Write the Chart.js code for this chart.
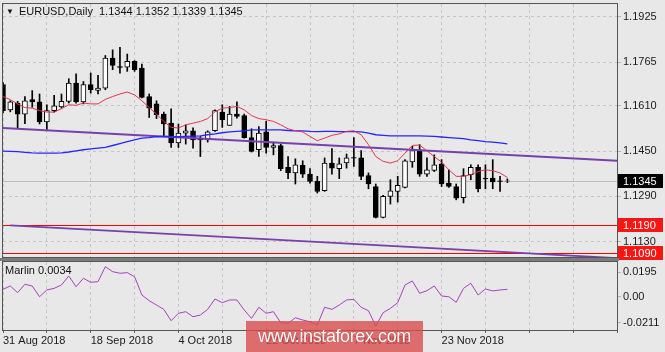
<!DOCTYPE html>
<html>
<head>
<meta charset="utf-8">
<script src="https://cdn.jsdelivr.net/npm/chart.js@4.4.0/dist/chart.umd.min.js"></script>
<style>
  html, body { margin: 0; padding: 0; background: #e8e8e8; }
  #wrap { position: relative; width: 665px; height: 352px; overflow: hidden; background: #e8e8e8;
          font-family: "Liberation Sans", Arial, sans-serif; color: #111; }
  canvas { position: absolute; left: 0; }
  #main { top: 0; }
  #ind { top: 261px; }
  #sep { position: absolute; left: 0; top: 258px; width: 619px; height: 3px; background: #7c7c7c; z-index: 2; }
  #title { position: absolute; left: 6px; top: 5px; font-size: 11px; white-space: nowrap; }
  #title span { font-size: 8px; margin-right: 5px; position: relative; top: -1px; }
  #marlin { position: absolute; left: 5px; top: 264px; font-size: 11px; }
  #wm { position: absolute; left: 246px; top: 321px; width: 177px; height: 31px; z-index: 3;
        background: rgba(218, 78, 78, 0.8); color: #fff; font-size: 18px; line-height: 30px;
        text-align: center; letter-spacing: -0.4px; text-shadow: 0 0 1px rgba(120,0,0,0.6); }
</style>
</head>
<body>
<div id="wrap">
  <canvas id="main" width="665" height="262"></canvas>
  <canvas id="ind" width="665" height="91"></canvas>
  <div id="sep"></div>
  <div id="title"><span>&#9660;</span>EURUSD,Daily&nbsp; 1.1344 1.1352 1.1339 1.1345</div>
  <div id="marlin">Marlin 0.0034</div>
  <div id="wm">www.instaforex.com</div>
</div>
<script>
// daily bars
const dates = ['31 Aug 2018','3 Sep 2018','4 Sep 2018','5 Sep 2018','6 Sep 2018','7 Sep 2018','10 Sep 2018','11 Sep 2018','12 Sep 2018','13 Sep 2018',
  '14 Sep 2018','17 Sep 2018','18 Sep 2018','19 Sep 2018','20 Sep 2018','21 Sep 2018','24 Sep 2018','25 Sep 2018','26 Sep 2018','27 Sep 2018',
  '28 Sep 2018','1 Oct 2018','2 Oct 2018','3 Oct 2018','4 Oct 2018','5 Oct 2018','8 Oct 2018','9 Oct 2018','10 Oct 2018','11 Oct 2018',
  '12 Oct 2018','15 Oct 2018','16 Oct 2018','17 Oct 2018','18 Oct 2018','19 Oct 2018','22 Oct 2018','23 Oct 2018','24 Oct 2018','25 Oct 2018',
  '26 Oct 2018','29 Oct 2018','30 Oct 2018','31 Oct 2018','1 Nov 2018','2 Nov 2018','5 Nov 2018','6 Nov 2018','7 Nov 2018','8 Nov 2018',
  '9 Nov 2018','12 Nov 2018','13 Nov 2018','14 Nov 2018','15 Nov 2018','16 Nov 2018','19 Nov 2018','20 Nov 2018','21 Nov 2018','22 Nov 2018',
  '23 Nov 2018','26 Nov 2018','27 Nov 2018','28 Nov 2018','29 Nov 2018','30 Nov 2018','3 Dec 2018','4 Dec 2018','5 Dec 2018','6 Dec 2018'];

const open = [1.1685,1.1596,1.1620,1.1581,1.1632,1.1624,1.1553,1.1593,1.1606,1.1626,
  1.1691,1.1624,1.1685,1.1665,1.1673,1.1779,1.1749,1.1747,1.1767,1.1744,
  1.1643,1.1617,1.1581,1.1549,1.1479,1.1514,1.1522,1.1492,1.1490,1.1522,
  1.1588,1.1541,1.1581,1.1576,1.1498,1.1455,1.1518,1.1463,1.1470,1.1393,
  1.1373,1.1400,1.1369,1.1343,1.1310,1.1408,1.1388,1.1408,1.1427,1.1426,
  1.1364,1.1325,1.1216,1.1290,1.1308,1.1322,1.1412,1.1455,1.1369,1.1382,
  1.1405,1.1337,1.1325,1.1286,1.1367,1.1393,1.1354,1.1355,1.1345,1.1344];
const high = [1.1692,1.1628,1.1626,1.1643,1.1664,1.1652,1.1614,1.1647,1.1652,1.1706,
  1.1723,1.1696,1.1726,1.1718,1.1788,1.1808,1.1817,1.1793,1.1770,1.1758,
  1.1652,1.1628,1.1588,1.1600,1.1546,1.1543,1.1532,1.1502,1.1522,1.1596,
  1.1614,1.1608,1.1624,1.1581,1.1529,1.1537,1.1555,1.1482,1.1475,1.1431,
  1.1423,1.1416,1.1388,1.1361,1.1426,1.1459,1.1426,1.1440,1.1498,1.1452,
  1.1373,1.1334,1.1294,1.1349,1.1361,1.1420,1.1467,1.1473,1.1426,1.1437,
  1.1420,1.1384,1.1334,1.1388,1.1402,1.1402,1.1402,1.1420,1.1361,1.1352];
const low = [1.1586,1.1589,1.1529,1.1547,1.1605,1.1546,1.1522,1.1588,1.1602,1.1620,
  1.1620,1.1617,1.1655,1.1652,1.1667,1.1738,1.1726,1.1732,1.1732,1.1638,
  1.1569,1.1565,1.1502,1.1463,1.1463,1.1475,1.1461,1.1431,1.1482,1.1520,
  1.1534,1.1541,1.1567,1.1496,1.1447,1.1431,1.1443,1.1437,1.1381,1.1353,
  1.1334,1.1357,1.1337,1.1302,1.1308,1.1369,1.1353,1.1390,1.1396,1.1349,
  1.1317,1.1214,1.1214,1.1263,1.1270,1.1320,1.1393,1.1361,1.1361,1.1378,
  1.1325,1.1322,1.1278,1.1267,1.1349,1.1306,1.1317,1.1317,1.1308,1.1339];
const close = [1.1593,1.1624,1.1581,1.1628,1.1624,1.1553,1.1593,1.1610,1.1626,1.1691,
  1.1624,1.1685,1.1667,1.1673,1.1779,1.1753,1.1746,1.1767,1.1738,1.1640,
  1.1602,1.1579,1.1546,1.1479,1.1514,1.1522,1.1490,1.1490,1.1518,1.1593,
  1.1561,1.1581,1.1573,1.1498,1.1449,1.1514,1.1463,1.1470,1.1388,1.1373,
  1.1402,1.1369,1.1343,1.1308,1.1408,1.1390,1.1405,1.1426,1.1425,1.1361,
  1.1334,1.1216,1.1290,1.1310,1.1329,1.1416,1.1452,1.1369,1.1384,1.1402,
  1.1334,1.1325,1.1284,1.1364,1.1393,1.1317,1.1352,1.1341,1.1343,1.1345];

// moving averages (red = fast, blue = slow)
const redMA = [1.1643,1.1632,1.1617,1.1604,1.1602,1.1593,1.1588,1.1588,1.1600,1.1614,
  1.1612,1.1620,1.1617,1.1617,1.1633,1.1643,1.1652,1.1659,1.1649,1.1628,
  1.1604,1.1581,1.1555,1.1534,1.1532,1.1543,1.1549,1.1555,1.1565,1.1589,
  1.1602,1.1604,1.1608,1.1596,1.1576,1.1565,1.1561,1.1555,1.1543,1.1529,
  1.1522,1.1518,1.1502,1.1487,1.1496,1.1506,1.1511,1.1520,1.1522,1.1508,
  1.1473,1.1431,1.1414,1.1408,1.1416,1.1443,1.1470,1.1472,1.1451,1.1431,
  1.1411,1.1384,1.1361,1.1361,1.1367,1.1378,1.1384,1.1381,1.1373,1.1357];
const blueMA = [1.1450,1.1449,1.1448,1.1446,1.1444,1.1443,1.1443,1.1443,1.1444,1.1447,
  1.1451,1.1455,1.1458,1.1461,1.1463,1.1470,1.1477,1.1484,1.1490,1.1496,
  1.1498,1.1501,1.1502,1.1501,1.1501,1.1502,1.1503,1.1504,1.1508,1.1511,
  1.1515,1.1518,1.1520,1.1522,1.1525,1.1525,1.1525,1.1525,1.1525,1.1523,
  1.1522,1.1522,1.1520,1.1519,1.1520,1.1520,1.1519,1.1519,1.1519,1.1518,
  1.1514,1.1508,1.1506,1.1504,1.1504,1.1504,1.1504,1.1504,1.1503,1.1502,
  1.1500,1.1498,1.1496,1.1494,1.1490,1.1487,1.1484,1.1482,1.1479,1.1476];

// Marlin oscillator
const marlin = [0.0058,0.0085,0.0031,0.0099,0.0085,-0.0002,0.0053,0.0066,0.0093,0.0166,
  0.0079,0.0147,0.0115,0.0120,0.0241,0.0201,0.0188,0.0193,0.0160,0.0012,
  -0.0034,-0.0069,-0.0104,-0.0196,-0.0136,-0.0123,-0.0164,-0.0150,-0.0104,-0.0020,
  -0.0050,-0.0028,-0.0028,-0.0109,-0.0177,-0.0087,-0.0136,-0.0123,-0.0212,-0.0217,
  -0.0172,-0.0190,-0.0204,-0.0231,-0.0087,-0.0104,-0.0069,-0.0028,-0.0023,-0.0087,
  -0.0115,-0.0239,-0.0131,-0.0096,-0.0050,0.0093,0.0126,0.0026,0.0047,0.0085,
  0.0004,-0.0002,-0.0047,0.0066,0.0107,0.0012,0.0061,0.0045,0.0053,0.0058];

// trend channel: [bar index, price] at each end
const upperTrend = [[0, 1.1532], [84, 1.1416]];
const lowerTrend = [[1, 1.1188], [84, 1.1072]];

const lastPrice = 1.1345;
const levels = [1.1190, 1.1090];

const priceTicks = [1.1925, 1.1765, 1.1610, 1.1450, 1.1290, 1.1130];
const marlinTicks = [0.0195, 0, -0.0211];
const marlinTickText = ['0.0195', '0.00', '-0.0211'];
const tickLabels = ['31 Aug 2018', '18 Sep 2018', '4 Oct 2018', '22 Oct 2018', '7 Nov 2018', '23 Nov 2018'];

const emptySlots = 15;
const xLabels = dates.concat(Array(emptySlots).fill(''));
const gridIdx = [];
for (let i = 0; i < xLabels.length; i += 6) gridIdx.push(i);

const bodies = open.map((o, i) => [o, close[i]]);
const wicks = low.map((l, i) => [l, high[i]]);
const bodyFill = open.map((o, i) => close[i] >= o ? '#ffffff' : '#000000');

function lineFrom(ends) {
  const arr = xLabels.map(() => null);
  ends.forEach(([i, v]) => { arr[i] = v; });
  return arr;
}

// horizontal lines and axis tags of the price pane
const hLines = [[lastPrice, '#bdbdbd'], [levels[0], '#ff0000'], [levels[1], '#ff0000']];
const priceTags = [[lastPrice, '#000000'], [levels[0], '#ff1414'], [levels[1], '#ff1414']];

Chart.defaults.font.family = '"Liberation Sans", Arial, sans-serif';
Chart.defaults.font.size = 11;
Chart.defaults.color = '#1a1a1a';

const gridColor = '#c6c6c6';

const frame = {
  id: 'frame',
  afterDraw(chart) {
    const { ctx, chartArea: a } = chart;
    ctx.save();
    ctx.strokeStyle = '#555555';
    ctx.lineWidth = 1;
    ctx.strokeRect(Math.round(a.left) - 0.5, Math.round(a.top) - 0.5,
      Math.round(a.right - a.left) + 1, Math.round(a.bottom - a.top) + 1);
    ctx.restore();
  }
};

const priceDecor = {
  id: 'priceDecor',
  beforeDatasetsDraw(chart) {
    const { ctx, chartArea: a } = chart;
    const y = chart.scales.y;
    ctx.save();
    ctx.setLineDash([]);
    ctx.lineWidth = 1;
    hLines.forEach(([v, c]) => {
      const py = Math.round(y.getPixelForValue(v)) + 0.5;
      ctx.strokeStyle = c;
      ctx.beginPath();
      ctx.moveTo(a.left, py);
      ctx.lineTo(a.right, py);
      ctx.stroke();
    });
    ctx.restore();
  },
  afterDraw(chart) {
    const { ctx, chartArea: a } = chart;
    const y = chart.scales.y;
    ctx.save();
    priceTags.forEach(([v, c]) => {
      const py = Math.round(y.getPixelForValue(v));
      ctx.fillStyle = c;
      ctx.fillRect(Math.round(a.right) + 1, py - 7, 45, 14);
      ctx.fillStyle = '#ffffff';
      ctx.font = '11px "Liberation Sans", Arial, sans-serif';
      ctx.textBaseline = 'middle';
      ctx.fillText(v.toFixed(4), Math.round(a.right) + 6, py + 0.5);
    });
    ctx.restore();
  }
};

const lineDs = (data, color, width, extra) => Object.assign({
  type: 'line', data, borderColor: color, borderWidth: width,
  pointRadius: 0, tension: 0, order: 0
}, extra || {});

new Chart(document.getElementById('main'), {
  type: 'bar',
  data: {
    labels: xLabels,
    datasets: [
      lineDs(redMA, '#e3364f', 1),
      lineDs(blueMA, '#2626ff', 1.3),
      lineDs(lineFrom(upperTrend), '#7840ad', 2, { spanGaps: true }),
      lineDs(lineFrom(lowerTrend), '#7840ad', 1.8, { spanGaps: true }),
      { data: bodies, backgroundColor: bodyFill, borderColor: '#000', borderWidth: 1,
        borderSkipped: false, barThickness: 5, grouped: false, order: 1 },
      { data: wicks, backgroundColor: '#000', borderWidth: 0, barThickness: 1, grouped: false, order: 2 }
    ]
  },
  options: {
    responsive: false,
    animation: false,
    layout: { padding: { left: 3, top: 4, right: 0, bottom: 5 } },
    plugins: { legend: { display: false }, tooltip: { enabled: false } },
    scales: {
      x: {
        offset: false,
        grid: { offset: false, color: gridColor, drawTicks: false },
        border: { display: false, dash: [3, 3] },
        ticks: { display: false, autoSkip: false },
        afterBuildTicks: s => { s.ticks = gridIdx.map(v => ({ value: v })); },
        afterFit: s => { s.height = 0; s.paddingLeft = 0; s.paddingRight = 0; }
      },
      y: {
        position: 'right',
        min: 1.1076,
        max: 1.1970,
        grid: { color: gridColor, tickLength: 4, tickColor: '#b4b4b4' },
        border: { display: false, dash: [3, 3] },
        ticks: { autoSkip: false, padding: 2, callback: v => v.toFixed(4) },
        afterBuildTicks: s => { s.ticks = priceTicks.map(v => ({ value: v })); },
        afterFit: s => { s.width = 48; s.paddingTop = 0; s.paddingBottom = 0; }
      }
    }
  },
  plugins: [priceDecor, frame]
});

new Chart(document.getElementById('ind'), {
  type: 'line',
  data: {
    labels: xLabels,
    datasets: [lineDs(marlin, '#a840c0', 1)]
  },
  options: {
    responsive: false,
    animation: false,
    layout: { padding: { left: 3, top: 1, right: 0, bottom: 0 } },
    plugins: { legend: { display: false }, tooltip: { enabled: false } },
    scales: {
      x: {
        offset: false,
        grid: { offset: false, color: gridColor, tickLength: 3, tickColor: '#606060' },
        border: { display: false, dash: [3, 3] },
        ticks: {
          autoSkip: false, maxRotation: 0, align: 'start', padding: 1,
          callback: v => tickLabels.includes(xLabels[v]) ? xLabels[v] : ''
        },
        afterBuildTicks: s => { s.ticks = gridIdx.map(v => ({ value: v })); },
        afterFit: s => { s.height = 22; s.paddingLeft = 0; s.paddingRight = 0; }
      },
      y: {
        position: 'right',
        min: -0.0271,
        max: 0.0279,
        grid: { drawOnChartArea: false, tickLength: 4, tickColor: '#b4b4b4' },
        border: { display: false },
        ticks: { autoSkip: false, padding: 2, callback: (v, i) => marlinTickText[i] },
        afterBuildTicks: s => { s.ticks = marlinTicks.map(v => ({ value: v })); },
        afterFit: s => { s.width = 48; s.paddingTop = 0; s.paddingBottom = 0; }
      }
    }
  },
  plugins: [frame]
});
</script>
</body>
</html>
